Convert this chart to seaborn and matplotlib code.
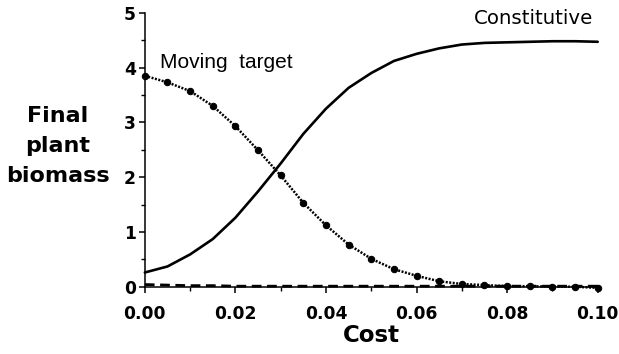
import matplotlib
matplotlib.use("Agg")
import matplotlib.pyplot as plt
from matplotlib.ticker import MultipleLocator, FormatStrFormatter
import seaborn as sns

# Cost levels sampled every 0.005
cost = [0.000, 0.005, 0.010, 0.015, 0.020, 0.025, 0.030, 0.035, 0.040, 0.045,
        0.050, 0.055, 0.060, 0.065, 0.070, 0.075, 0.080, 0.085, 0.090, 0.095, 0.100]

# Final plant biomass under each defence strategy
constitutive = [0.26, 0.37, 0.59, 0.87, 1.26, 1.74, 2.25, 2.79, 3.25, 3.63,
                3.90, 4.12, 4.25, 4.35, 4.42, 4.45, 4.46, 4.47, 4.48, 4.48, 4.47]
moving_target = [3.85, 3.73, 3.57, 3.30, 2.93, 2.49, 2.03, 1.53, 1.12, 0.77,
                 0.51, 0.32, 0.20, 0.10, 0.05, 0.03, 0.01, 0.01, 0.00, 0.00, -0.02]
undefended = [0.04, 0.03, 0.02, 0.02, 0.01, 0.01, 0.01, 0.01, 0.01, 0.01,
              0.01, 0.01, 0.01, 0.01, 0.01, 0.01, 0.01, 0.01, 0.01, 0.01, 0.01]

x_ticks = [0.00, 0.02, 0.04, 0.06, 0.08, 0.10]
y_ticks = [0, 1, 2, 3, 4, 5]

sns.set_style("ticks")
plt.rcParams["font.family"] = ["DejaVu Sans"]

fig = plt.figure(figsize=(6.19, 3.54), dpi=100)
ax = fig.add_axes([0.234, 0.190, 0.7316, 0.774])

sns.lineplot(x=cost, y=constitutive, ax=ax, color="black", lw=1.9,
             linestyle="-", clip_on=False)
sns.lineplot(x=cost, y=undefended, ax=ax, color="black", lw=2.0,
             linestyle=(0, (3.5, 2)), clip_on=False)
sns.lineplot(x=cost, y=moving_target, ax=ax, color="black", lw=1.8,
             linestyle=(0, (0.8, 0.6)), marker="o", markersize=4.6,
             markeredgecolor="black", markerfacecolor="black", clip_on=False)

ax.set_xlim(0, 0.10)
ax.set_ylim(0, 5)
ax.set_xticks(x_ticks)
ax.set_yticks(y_ticks)
ax.xaxis.set_minor_locator(MultipleLocator(0.01))
ax.yaxis.set_minor_locator(MultipleLocator(0.5))
ax.xaxis.set_major_formatter(FormatStrFormatter("%.2f"))

sns.despine(ax=ax)
for side in ("left", "bottom"):
    ax.spines[side].set_linewidth(1.1)
    ax.spines[side].set_color("black")

ax.tick_params(axis="both", which="major", length=4.5, width=1.1, color="black",
               labelsize=12.3, labelcolor="black", direction="out")
ax.tick_params(axis="both", which="minor", length=3.2, width=1.0, color="black",
               direction="out")
ax.tick_params(axis="x", which="major", pad=8.5)
ax.tick_params(axis="y", which="major", pad=2)
for lab in ax.get_xticklabels() + ax.get_yticklabels():
    lab.set_fontweight("bold")

ax.set_xlabel("Cost", fontsize=16.5, fontweight="bold", color="black", labelpad=1)
ax.set_ylabel("")

# Multi-line y title, one line per text
for label, ybase in (("Final", 122), ("plant", 152), ("biomass", 181.5)):
    fig.text(58 / 619, 1 - ybase / 354, label, ha="center", va="baseline",
             fontsize=16, fontweight="bold", color="black")

ax.text(0.0033, 3.985, "Moving  target", ha="left", va="baseline",
        fontsize=15, family=["Liberation Sans", "DejaVu Sans"], color="black")
ax.text(0.0727, 4.79, "Constitutive", ha="left", va="baseline",
        fontsize=14.2, color="black")

fig.savefig("out.png", dpi=100)
